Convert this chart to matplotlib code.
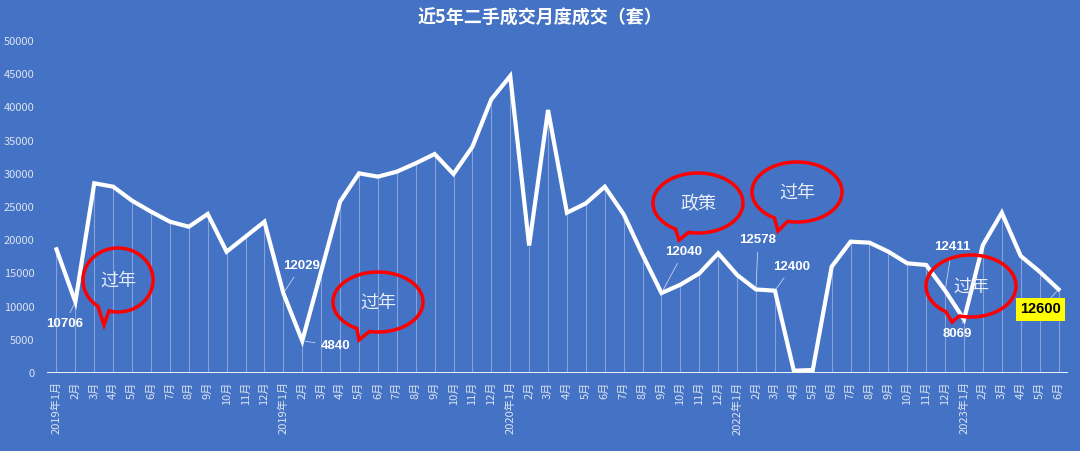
import numpy as np
import matplotlib
matplotlib.use("Agg")
import matplotlib.pyplot as plt
from matplotlib.patches import Polygon

plt.rcParams["font.family"] = ["Noto Sans CJK SC", "DejaVu Sans"]

# monthly volumes, 2019-01 .. 2023-06
volumes = [
    18630, 10706, 28570, 28060, 25950, 24300, 22790, 22030, 23950, 18270, 20530, 22790,
    12029, 4840, 15300, 25800, 30070, 29570, 30320, 31580, 32980, 29970, 34080, 41220,
    44730, 19200, 39610, 24140, 25550, 28060, 23900, 17800, 12040, 13300, 15000, 18030,
    14760, 12578, 12400, 350, 450, 16010, 19780, 19630, 18270, 16520, 16270, 12411,
    8069, 19280, 24140, 17620, 15260, 12600,
]
block_years = ["2019", "2019", "2020", "2022", "2023"]
months_per_block = [12, 12, 12, 12, 6]

tick_labels = []
for year, n in zip(block_years, months_per_block):
    for m in range(1, n + 1):
        tick_labels.append(f"{year}年{m}月" if m == 1 else f"{m}月")

# labelled points: index -> text offset (pixels)
label_points = {1: (-11, -22), 12: (18, 27), 13: (33, -5), 32: (22, 41),
                37: (2, 49), 38: (17, 24), 47: (7, 44), 48: (-7, -15)}
highlight_point = (53, (-18, -20))

# speech bubbles: text, centre, semi-axes, gap angles, tail tip (pixels, y down)
bubbles = [
    ("过年", (118, 280), (35, 32), (105, 125), (104, 325)),
    ("过年", (378, 302), (45, 30), (101, 118), (359, 340)),
    ("政策", (698, 203), (45, 30), (102, 120), (679, 240)),
    ("过年", (797, 192), (45, 30), (102, 120), (778, 231)),
    ("过年", (971, 286), (45, 31), (105, 124), (952, 322)),
]

W, H = 1080, 451
bg = "#4472C4"
fig = plt.figure(figsize=(W / 100, H / 100), dpi=100, facecolor=bg)
ax = fig.add_axes([47 / W, 1 - 373 / H, (1068 - 47) / W, (373 - 41) / H])
ax.set_facecolor(bg)

x = np.arange(len(volumes))
ax.vlines(x, 0, volumes, color="white", alpha=0.35, lw=0.8)
ax.plot(x, volumes, color="white", lw=3, solid_joinstyle="miter", zorder=3)
ax.axhline(0, color="white", lw=2, zorder=4)

ax.set_xlim(-0.5, len(volumes) - 0.5)
ax.set_ylim(0, 50000)
ax.set_yticks(range(0, 50001, 5000))
ax.tick_params(axis="y", length=0, labelsize=8, labelcolor="#DCE3F0", pad=9)
ax.set_xticks(x)
ax.set_xticklabels(tick_labels, rotation=90, fontsize=8, color="#DCE3F0")
ax.tick_params(axis="x", length=0, pad=6)
for s in ax.spines.values():
    s.set_visible(False)

for i, off in label_points.items():
    ax.annotate(str(volumes[i]), xy=(i, volumes[i]), xytext=off, textcoords="offset pixels",
                ha="center", va="center", fontsize=9.5, fontweight="bold", color="white",
                family=["Liberation Sans", "DejaVu Sans"],
                arrowprops=dict(arrowstyle="-", color="#C8D2E6", lw=0.6, shrinkA=2, shrinkB=2),
                zorder=5)
i, off = highlight_point
ax.annotate(str(volumes[i]), xy=(i, volumes[i]), xytext=off, textcoords="offset pixels",
            ha="center", va="center", fontsize=10.5, fontweight="bold", color="black",
            family=["Liberation Sans", "DejaVu Sans"],
            bbox=dict(boxstyle="square,pad=0.3", fc="#FFFF00", ec="none"),
            arrowprops=dict(arrowstyle="-", color="#C8D2E6", lw=0.6, shrinkA=0, shrinkB=2),
            zorder=5)


def px(xp, yp):
    return (xp / W, 1 - yp / H)


for text, (cx, cy), (a, b), (g1, g2), tip in bubbles:
    t = np.radians(np.linspace(g2, g1 + 360, 200))
    pts = [px(cx + a * np.cos(tt), cy + b * np.sin(tt)) for tt in t]
    pts.append(px(*tip))
    fig.add_artist(Polygon(pts, closed=True, fill=False, ec="#FF0000", lw=2.5,
                           transform=fig.transFigure, zorder=6))
    fig.text(*px(cx, cy + 1), text, ha="center", va="center", fontsize=13,
             color="#E8EEF8", fontweight="light")

fig.text(0.5, 1 - 18 / H, "近5年二手成交月度成交（套）", ha="center", va="center",
         fontsize=13, fontweight="bold", color="white")

fig.savefig("out.png", dpi=100, facecolor=bg)
